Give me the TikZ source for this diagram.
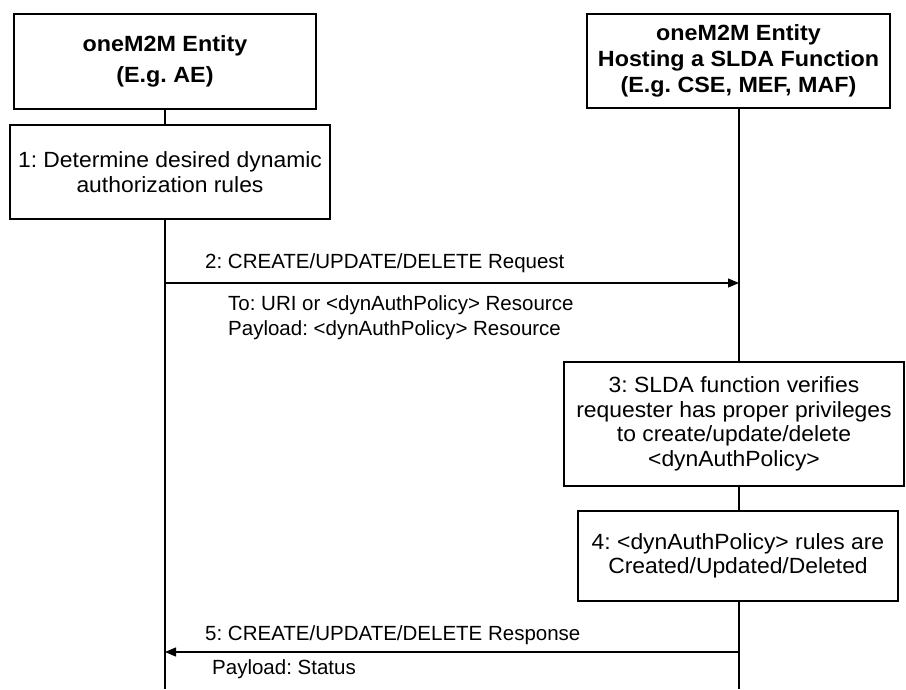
\documentclass[tikz,border=0pt]{standalone}
\usepackage{fontspec}
\setmainfont{Liberation Sans}
\newfontfamily\boxfont{Liberation Sans}[FakeStretch=1.04]
\newfontfamily\headfont{Liberation Sans}[FakeStretch=1.06]
\usetikzlibrary{arrows.meta}
\tikzset{
  box/.style={draw, line width=1.2pt, inner sep=0pt, align=center, font=\frenchspacing\boxfont\fontsize{22}{24.5}\selectfont},
  hbox/.style={box, font=\frenchspacing\headfont\bfseries\fontsize{22}{26}\selectfont},
  life/.style={line width=1.2pt},
  msg/.style={line width=1.2pt, -{Triangle[length=11pt,width=9pt]}},
  lbl/.style={anchor=west, inner sep=0pt, align=left, font=\frenchspacing\fontsize{20.5}{25}\selectfont}
}
\begin{document}
\begin{tikzpicture}[x=1pt,y=-1pt]
\useasboundingbox (0,0) rectangle (906,689);
% headers
\node[hbox, font=\frenchspacing\headfont\bfseries\fontsize{22}{31}\selectfont, minimum width=302pt, minimum height=95pt] (h1) at (165,61.5) {oneM2M Entity\\(E.g. AE)};
\node[hbox, minimum width=303pt, minimum height=94pt] (h2) at (738.5,61) {oneM2M Entity\\Hosting a SLDA Function\\(E.g. CSE, MEF, MAF)};
% steps
\node[box, minimum width=320pt, minimum height=94pt] (s1) at (170,172) {\raisebox{-4pt}{\parbox{316pt}{\centering 1: Determine desired dynamic\\authorization rules}}};
\node[box, minimum width=340pt, minimum height=124pt] (s3) at (734,424) {3: SLDA function verifies\\requester has proper privileges\\to create/update/delete\\<dynAuthPolicy>};
\node[box, minimum width=320pt, minimum height=90pt] (s4) at (738,556) {4: <dynAuthPolicy> rules are\\Created/Updated/Deleted};
% lifeline coordinates
\coordinate (L1) at (165,0);
\coordinate (L2) at (739,0);
\coordinate (L1end) at (165,689);
\coordinate (L2end) at (739,689);
\coordinate (a2s) at (165,283);
\coordinate (a2e) at (739,283);
\coordinate (a5s) at (739,652);
\coordinate (a5e) at (165,652);
% lifelines
\draw[life] (L1 |- h1.south) -- (L1 |- s1.north);
\draw[life] (L1 |- s1.south) -- (L1end);
\draw[life] (L2 |- h2.south) -- (L2 |- s3.north);
\draw[life] (L2 |- s3.south) -- (L2 |- s4.north);
\draw[life] (L2 |- s4.south) -- (L2end);
% messages
\draw[msg] (a2s) -- (a2e);
\draw[msg] (a5s) -- (a5e);
% labels
\node[lbl] (m2) at (205,263) {2: CREATE/UPDATE/DELETE Request};
\node[lbl] (m2b) at (228,317.5) {To: URI or <dynAuthPolicy> Resource\\Payload: <dynAuthPolicy> Resource};
\node[lbl] (m5) at (205,635) {5: CREATE/UPDATE/DELETE Response};
\node[lbl] (m5b) at (212,669) {Payload: Status};
\end{tikzpicture}
\end{document}
